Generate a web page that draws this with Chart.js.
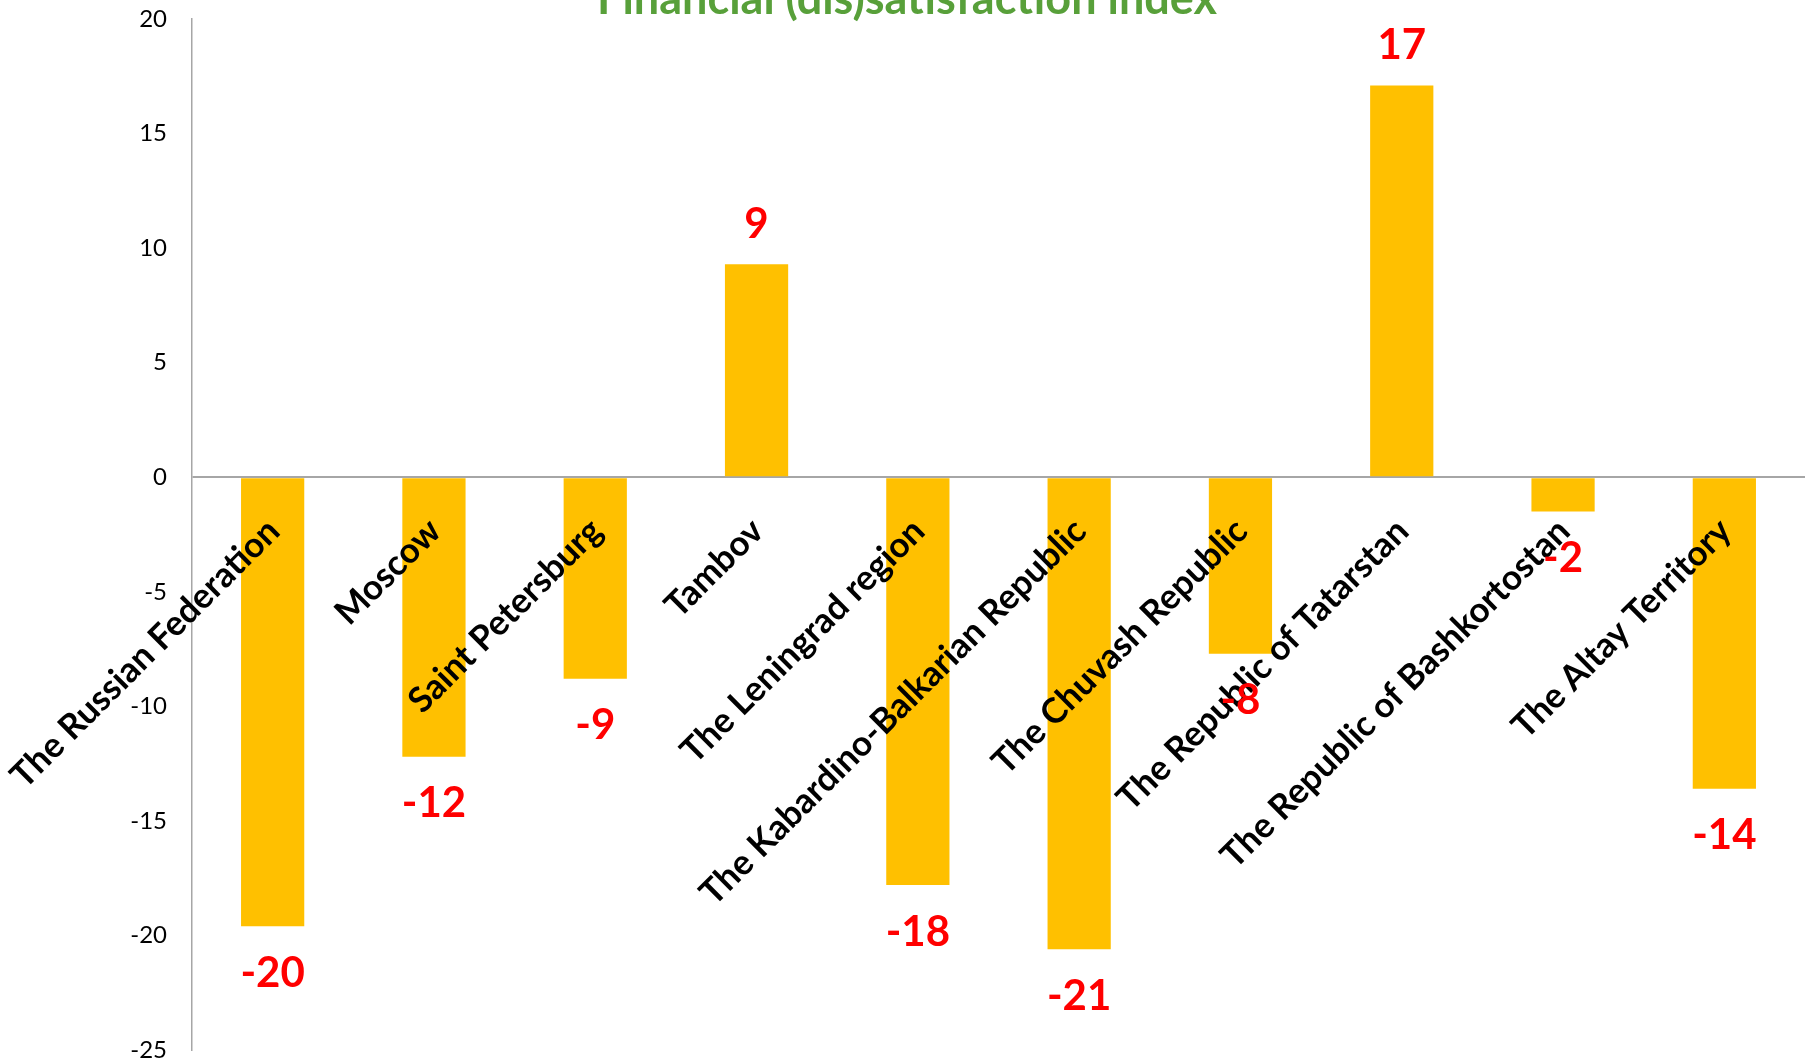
<!DOCTYPE html>
<html>
<head>
<meta charset="utf-8">
<title>Financial (dis)satisfaction index</title>
<script src="https://cdn.jsdelivr.net/npm/chart.js@4.4.1/dist/chart.umd.min.js"></script>
<style>
  html, body { margin: 0; padding: 0; background: #fff; }
  #wrap { width: 1814px; height: 1062px; }
</style>
</head>
<body>
<div id="wrap"><canvas id="index-chart" width="1814" height="1062"></canvas></div>
<script>
const regions = [
  'The Russian Federation',
  'Moscow',
  'Saint Petersburg',
  'Tambov',
  'The Leningrad region',
  'The Kabardino-Balkarian Republic',
  'The Chuvash Republic',
  'The Republic of Tatarstan',
  'The Republic of Bashkortostan',
  'The Altay Territory'
];
const indexValues = [-19.6, -12.2, -8.8, 9.3, -17.8, -20.6, -7.7, 17.1, -1.5, -13.6];
const yTicks = [20, 15, 10, 5, 0, -5, -10, -15, -20, -25];

const chartTitle = 'Financial (dis)satisfaction index';

// round halves away from zero, the way the spreadsheet formats them
function roundLabel(v) {
  return Math.sign(v) * Math.round(Math.abs(v));
}

const titlePlugin = {
  id: 'clippedTitle',
  afterDraw(chart) {
    const ctx = chart.ctx;
    ctx.save();
    ctx.font = 'bold 45px Lato';
    ctx.fillStyle = '#58a03a';
    ctx.textAlign = 'center';
    ctx.textBaseline = 'alphabetic';
    ctx.fillText(chartTitle, chart.width / 2, 14);
    ctx.restore();
  }
};

// category names sit just under the zero line, slanted up to the right
const categoryLabels = {
  id: 'categoryLabels',
  afterDatasetsDraw(chart) {
    const { ctx, scales: { x, y } } = chart;
    const zeroY = y.getPixelForValue(0);
    ctx.save();
    ctx.font = 'bold 35px Lato';
    ctx.fillStyle = '#000';
    ctx.textAlign = 'right';
    ctx.textBaseline = 'middle';
    regions.forEach((name, i) => {
      ctx.save();
      ctx.translate(x.getPixelForValue(i) + 1, zeroY + 48);
      ctx.rotate(-Math.PI / 4);
      ctx.fillText(name, 0, 0);
      ctx.restore();
    });
    ctx.restore();
  }
};

const valueLabels = {
  id: 'valueLabels',
  afterDatasetsDraw(chart) {
    const ctx = chart.ctx;
    const meta = chart.getDatasetMeta(0);
    ctx.save();
    ctx.font = 'bold 42px Lato';
    ctx.fillStyle = '#ff0000';
    ctx.textAlign = 'center';
    ctx.textBaseline = 'middle';
    meta.data.forEach((bar, i) => {
      const v = indexValues[i];
      const yPos = v >= 0 ? bar.y - 40 : bar.y + 47;
      ctx.fillText(String(roundLabel(v)), bar.x, yPos);
    });
    ctx.restore();
  }
};

const ctx = document.getElementById('index-chart').getContext('2d');
new Chart(ctx, {
  type: 'bar',
  data: {
    labels: regions,
    datasets: [{
      data: indexValues,
      backgroundColor: '#ffc000',
      borderWidth: 0,
      categoryPercentage: 1,
      barPercentage: 0.392
    }]
  },
  options: {
    responsive: false,
    animation: false,
    devicePixelRatio: 1,
    layout: {
      padding: { top: 19, right: 9, bottom: 12, left: 0 }
    },
    plugins: {
      legend: { display: false },
      title: { display: false },
      tooltip: { enabled: false }
    },
    scales: {
      x: {
        display: false
      },
      y: {
        min: -25,
        max: 20,
        afterBuildTicks: scale => {
          scale.ticks = yTicks.map(v => ({ value: v }));
        },
        afterFit: scale => {
          scale.width = 192;
        },
        grid: {
          drawTicks: true,
          tickLength: 25,
          tickColor: 'rgba(0,0,0,0)',
          lineWidth: 2,
          color: c => (c.tick && c.tick.value === 0 ? '#a6a6a6' : 'rgba(0,0,0,0)')
        },
        border: { color: '#a6a6a6', width: 1.5 },
        ticks: {
          color: '#000',
          padding: 0,
          font: { family: 'Lato', size: 24, lineHeight: 1 }
        }
      }
    }
  },
  plugins: [categoryLabels, valueLabels, titlePlugin]
});
</script>
</body>
</html>
